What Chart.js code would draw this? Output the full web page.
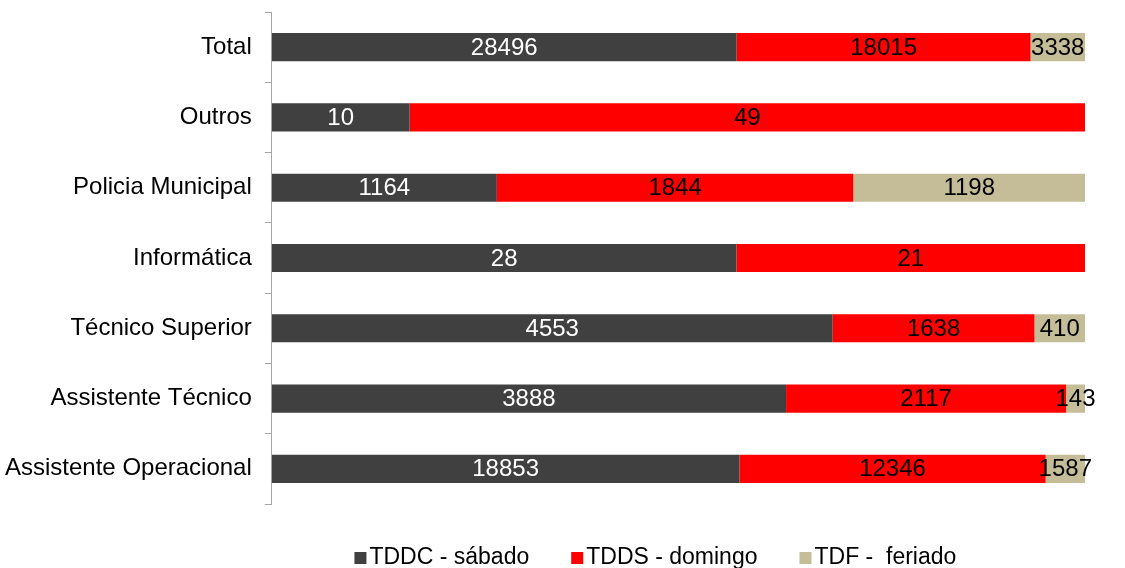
<!DOCTYPE html>
<html>
<head>
<meta charset="utf-8">
<script src="https://cdn.jsdelivr.net/npm/chart.js@4"></script>
<style>
  html, body { margin: 0; padding: 0; background: #ffffff; }
  #wrap { width: 1125px; height: 568px; }
</style>
</head>
<body>
<div id="wrap"><canvas id="c" width="1125" height="568"></canvas></div>
<script>
const categories = ['Total', 'Outros', 'Policia Municipal', 'Informática', 'Técnico Superior', 'Assistente Técnico', 'Assistente Operacional'];
const seriesNames = ['TDDC - sábado', 'TDDS - domingo', 'TDF -  feriado'];
const tddcSabado = [28496, 10, 1164, 28, 4553, 3888, 18853];
const tddsDomingo = [18015, 49, 1844, 21, 1638, 2117, 12346];
const tdfFeriado = [3338, null, 1198, null, 410, 143, 1587];

const seriesValues = [tddcSabado, tddsDomingo, tdfFeriado];
const colors = ['#404040', '#FF0000', '#C4BD97'];
const labelColors = ['#ffffff', '#000000', '#000000'];

const totals = categories.map((_, i) => seriesValues.reduce((s, arr) => s + (arr[i] || 0), 0));

const datasets = seriesValues.map((arr, k) => ({
  label: seriesNames[k],
  data: arr.map((v, i) => v == null ? null : v / totals[i] * 100),
  raw: arr,
  backgroundColor: colors[k],
  borderWidth: 0,
  barPercentage: 0.4,
  categoryPercentage: 1.0
}));

const FONT = '"Liberation Sans", Arial, sans-serif';

const valueLabels = {
  id: 'valueLabels',
  afterDatasetsDraw(chart) {
    const ctx = chart.ctx;
    ctx.save();
    ctx.font = '24px ' + FONT;
    ctx.textAlign = 'center';
    ctx.textBaseline = 'middle';
    chart.data.datasets.forEach((ds, k) => {
      const meta = chart.getDatasetMeta(k);
      meta.data.forEach((el, i) => {
        const v = ds.raw[i];
        if (v == null) return;
        const cx = (el.x + el.base) / 2;
        ctx.fillStyle = labelColors[k];
        ctx.fillText(String(v), cx, el.y + 1);
      });
    });
    ctx.restore();
  }
};

const customLegend = {
  id: 'customLegend',
  afterDraw(chart) {
    const ctx = chart.ctx;
    const area = chart.chartArea;
    ctx.save();
    ctx.font = '23px ' + FONT;
    ctx.textBaseline = 'alphabetic';
    ctx.textAlign = 'left';
    const box = 12, gapBox = 3, gapItem = 42;
    const items = chart.data.datasets.map(ds => ({
      text: ds.label, color: ds.backgroundColor, w: ctx.measureText(ds.label).width
    }));
    const total = items.reduce((s, it) => s + box + gapBox + it.w, 0) + gapItem * (items.length - 1);
    const center = (area.left + area.right) / 2 - 23;
    let x = center - total / 2;
    const baseY = 564;
    items.forEach(it => {
      ctx.fillStyle = it.color;
      ctx.fillRect(x, baseY - 12, box, box);
      ctx.fillStyle = '#000000';
      ctx.fillText(it.text, x + box + gapBox, baseY);
      x += box + gapBox + it.w + gapItem;
    });
    ctx.restore();
  }
};

new Chart(document.getElementById('c'), {
  type: 'bar',
  data: { labels: categories, datasets },
  plugins: [valueLabels, customLegend],
  options: {
    indexAxis: 'y',
    responsive: false,
    animation: false,
    layout: { padding: { top: 12, right: 40, left: -8, bottom: 64 } },
    scales: {
      x: {
        stacked: true,
        display: false,
        min: 0,
        max: 100
      },
      y: {
        stacked: true,
        afterFit(scale) { scale.paddingTop = 0; scale.paddingBottom = 0; },
        border: { display: true, color: '#a6a6a6', width: 1 },
        grid: {
          display: true,
          offset: true,
          drawOnChartArea: false,
          drawTicks: true,
          tickLength: 7,
          color: '#a6a6a6'
        },
        ticks: {
          color: '#000000',
          padding: 13,
          font: { family: FONT, size: 24 }
        }
      }
    },
    plugins: {
      tooltip: { enabled: false },
      legend: { display: false }
    }
  }
});
</script>
</body>
</html>
